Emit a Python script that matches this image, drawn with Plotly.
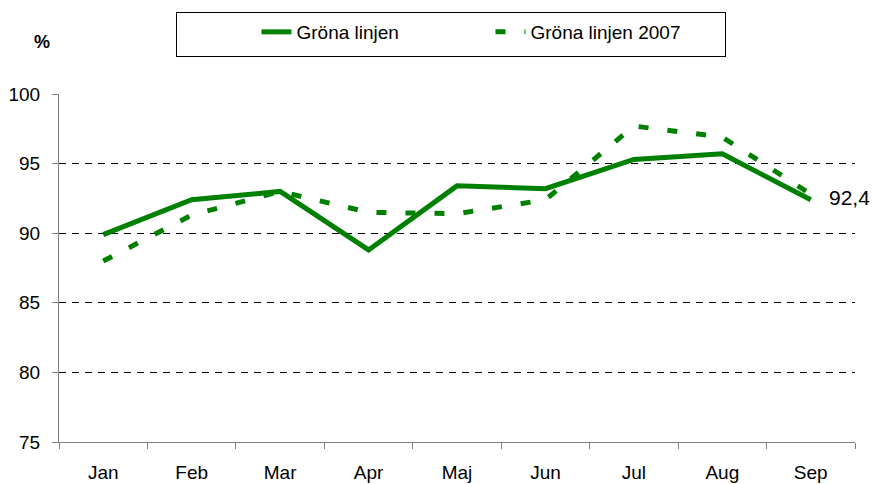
import plotly.graph_objects as go

months = ["Jan", "Feb", "Mar", "Apr", "Maj", "Jun", "Jul", "Aug", "Sep"]
grona = [89.9, 92.4, 93.0, 88.8, 93.4, 93.2, 95.3, 95.7, 92.4]
grona_2007 = [88.0, 91.3, 93.0, 91.5, 91.4, 92.4, 97.7, 96.9, 92.8]
y_ticks = [75, 80, 85, 90, 95, 100]

GREEN = "#008000"
FONT = "Liberation Sans, Arial, sans-serif"

fig = go.Figure()
fig.add_trace(go.Scatter(x=months, y=grona, mode="lines", name="Gröna linjen",
                         line=dict(color=GREEN, width=5)))
fig.add_trace(go.Scatter(x=months, y=grona_2007, mode="lines", name="Gröna linjen 2007",
                         line=dict(color=GREEN, width=5, dash="10px,19px")))

fig.add_annotation(x=months[-1], y=grona[-1], text=f"{grona[-1]:.1f}".replace(".", ","),
                   showarrow=False, xanchor="left", xshift=16, yshift=2,
                   font=dict(size=21, color="black", family=FONT))
fig.add_annotation(xref="paper", yref="paper", x=-0.0214, y=1.1506, text="<b>%</b>",
                   showarrow=False, xanchor="center", yanchor="middle",
                   font=dict(size=18, color="black", family=FONT))

fig.update_layout(
    width=877, height=484,
    margin=dict(l=59, r=22, t=94, b=42, autoexpand=False),
    plot_bgcolor="white", paper_bgcolor="white",
    font=dict(family=FONT, size=19, color="black"),
    showlegend=True,
    legend=dict(orientation="h", xref="container", yref="container",
                x=176 / 877, y=1 - 12 / 484, xanchor="left", yanchor="top",
                bordercolor="black", borderwidth=1, entrywidth=189,
                valign="middle",
                title=dict(text="\u00a0" * 10, side="left", font=dict(size=25)),
                font=dict(size=19, family=FONT), bgcolor="white"),
    xaxis=dict(type="category", range=[-0.5, 8.5], showline=True, linecolor="#808080",
               linewidth=1, ticks="outside", tickson="boundaries", ticklen=6,
               tickcolor="#808080", showgrid=False, tickfont=dict(size=19),
               ticklabelstandoff=13, automargin=False),
    yaxis=dict(range=[75, 100], tickvals=y_ticks, showline=True, linecolor="#808080",
               linewidth=1, ticks="outside", ticklen=6, tickcolor="#808080",
               showgrid=True, gridcolor="black", griddash="7px,6px", gridwidth=1,
               zeroline=False, tickfont=dict(size=19), ticklabelstandoff=8,
               automargin=False),
)

fig.write_html("out.html", config={"displayModeBar": False},
               post_script="document.body.style.margin='0';document.body.style.overflow='hidden';")
